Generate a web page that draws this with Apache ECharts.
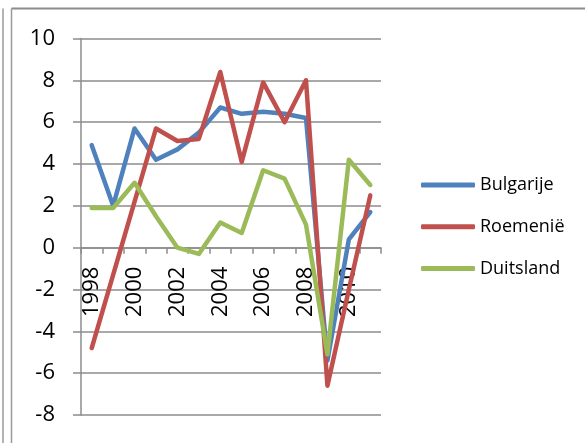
<!DOCTYPE html>
<html>
<head>
<meta charset="utf-8">
<script src="https://cdn.jsdelivr.net/npm/echarts@6/dist/echarts.min.js"></script>
<style>
  html, body { margin: 0; padding: 0; background: #fff; }
  #main { width: 585px; height: 443px; }
</style>
</head>
<body>
<div id="main"></div>
<script>
var years = ['1998', '1999', '2000', '2001', '2002', '2003', '2004', '2005', '2006', '2007', '2008', '2009', '2010', '2011']
var bulgarije = [4.9, 2.0, 5.7, 4.2, 4.7, 5.5, 6.7, 6.4, 6.5, 6.4, 6.2, -5.4, 0.4, 1.7]
var roemenie = [-4.8, -1.3, 2.2, 5.7, 5.1, 5.2, 8.4, 4.1, 7.9, 6.0, 8.0, -6.6, -2.0, 2.5]
var duitsland = [1.9, 1.9, 3.1, 1.5, 0.0, -0.3, 1.2, 0.7, 3.7, 3.3, 1.1, -5.1, 4.2, 3.0]

var gridColor = '#8c8c8c'
var font = 'Open Sans'

var myChart = echarts.init(document.getElementById('main'))

function lineSeries (name, color, data) {
  return {
    name: name,
    type: 'line',
    data: data,
    symbol: 'none',
    lineStyle: { color: color, width: 4.5, cap: 'round', join: 'round' },
    itemStyle: { color: color },
    animation: false
  }
}

// the category axis sits at value 0: grid is 376.5px high for 18 units, 0 is 8 units up
var yMin = -8
var yMax = 10
var gridHeight = 376.5
var zeroOffset = -gridHeight * (0 - yMin) / (yMax - yMin)

var option = {
  backgroundColor: '#fff',
  animation: false,
  grid: { left: 81, top: 38.5, width: 300, height: gridHeight, containLabel: false, outerBoundsMode: 'none' },
  // frame lines of the chart area
  graphic: [
    { type: 'line', shape: { x1: 3, y1: 8.5, x2: 3, y2: 443 }, style: { stroke: '#9a9a9a', lineWidth: 1.5 } },
    { type: 'line', shape: { x1: 11.5, y1: 8.5, x2: 11.5, y2: 443 }, style: { stroke: '#9a9a9a', lineWidth: 1.5 } },
    { type: 'line', shape: { x1: 11.5, y1: 8.5, x2: 585, y2: 8.5 }, style: { stroke: '#8c8c8c', lineWidth: 2 } }
  ],
  legend: {
    orient: 'vertical',
    left: 421,
    top: 176,
    padding: 0,
    itemWidth: 54,
    itemHeight: 5,
    itemGap: 23.7,
    itemTextGap: 5,
    icon: 'roundRect',
    textStyle: { fontFamily: font, fontSize: 18, color: '#000', lineHeight: 18 },
    data: ['Bulgarije', 'Roemenië', 'Duitsland']
  },
  xAxis: {
    type: 'category',
    data: years,
    boundaryGap: true,
    offset: zeroOffset,
    axisLine: { onZero: false, lineStyle: { color: gridColor, width: 1.5 } },
    axisTick: { show: true, interval: 0, length: 6, lineStyle: { color: gridColor, width: 1.5 } },
    axisLabel: { interval: 1, rotate: 90, margin: 19, fontFamily: font, fontSize: 22, color: '#000' },
    splitLine: { show: false }
  },
  yAxis: {
    type: 'value',
    min: yMin,
    max: yMax,
    interval: 2,
    axisLine: { show: true, lineStyle: { color: gridColor, width: 1.5 } },
    axisTick: { show: true, length: 8, lineStyle: { color: gridColor, width: 1.5 } },
    axisLabel: { margin: 26, fontFamily: font, fontSize: 22, color: '#000' },
    splitLine: { show: true, lineStyle: { color: gridColor, width: 1.5 } }
  },
  series: [
    lineSeries('Bulgarije', '#4f81bd', bulgarije),
    lineSeries('Roemenië', '#c0504d', roemenie),
    lineSeries('Duitsland', '#9bbb59', duitsland)
  ]
}
myChart.setOption(option)
</script>
</body>
</html>
